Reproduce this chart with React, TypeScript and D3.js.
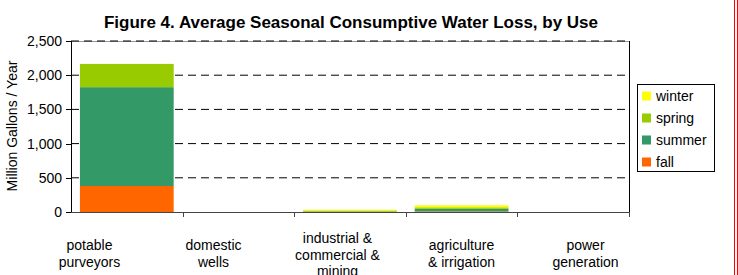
import React from 'react';
import * as d3 from 'd3';

const categories = ["potable purveyors", "domestic wells", "industrial & commercial & mining", "agriculture & irrigation", "power generation"];
const categoryLines = [["potable", "purveyors"], ["domestic", "wells"], ["industrial &", "commercial &", "mining"], ["agriculture", "& irrigation"], ["power", "generation"]];
const seasons = ["fall", "summer", "spring", "winter"];
const fall = [380, 0, 2, 8, 0];
const summer = [1445, 0, 5, 38, 0];
const spring = [340, 0, 15, 22, 0];
const winter = [0, 0, 12, 30, 0];
const yTicks = [0, 500, 1000, 1500, 2000, 2500];
const colors: Record<string, string> = { fall: "#FF6600", summer: "#339966", spring: "#99CC00", winter: "#FFFF00" };

const W = 738, H = 275;
const left = 71, right = 629, top = 41, bottom = 212;
const font = "'Liberation Sans', Arial, sans-serif";

export default function App() {
    const rows = categories.map((c, i) => ({ cat: c, fall: fall[i], summer: summer[i], spring: spring[i], winter: winter[i] }));
    const stack = d3.stack<any>().keys(seasons)(rows);

    const x = d3.scaleBand().domain(categories).range([left, right]).paddingInner(0.16).paddingOuter(0.08);
    // labels sit on a slightly wider spacing than the bars
    const xLabel = d3.scaleBand().domain(categories).range([27.5, 647.5]);
    const y = d3.scaleLinear().domain([0, 2500]).range([bottom, top]);
    const boundaries = d3.range(categories.length + 1).map(i => left + i * x.step());
    const fmt = d3.format(",");

    return (
        <svg width={W} height={H} style={{ position: 'absolute', left: 0, top: 0 }} fontFamily={font}>
            <rect x={0} y={0} width={W} height={H} fill="#fff" />
            <text x={351} y={28} textAnchor="middle" fontWeight="bold" fontSize={17}>
                Figure 4. Average Seasonal Consumptive Water Loss, by Use
            </text>

            {/* grid */}
            <line x1={left} x2={right} y1={top + 0.5} y2={top + 0.5} stroke="#999" />
            {yTicks.filter(t => t > 0).map(t => (
                <line key={t} x1={left} x2={right} y1={y(t)} y2={y(t)} stroke="#000" strokeDasharray="8,5" />
            ))}
            <line x1={right + 0.5} x2={right + 0.5} y1={top} y2={bottom} stroke="#000" />

            {/* bars */}
            {stack.map(layer => (
                <g key={layer.key} fill={colors[layer.key]}>
                    {layer.map((d, i) => (
                        <rect key={i} x={x(categories[i])} width={x.bandwidth()}
                            y={y(d[1])} height={Math.max(0, y(d[0]) - y(d[1]))} />
                    ))}
                </g>
            ))}

            {/* y axis */}
            <line x1={left + 0.5} x2={left + 0.5} y1={top} y2={bottom + 0.5} stroke="#000" />
            {yTicks.map(t => (
                <g key={t}>
                    <line x1={left - 5} x2={left} y1={Math.round(y(t)) + 0.5} y2={Math.round(y(t)) + 0.5} stroke="#000" />
                    <text x={62} y={y(t)} dy="0.35em" textAnchor="end" fontSize={14}>{fmt(t)}</text>
                </g>
            ))}
            <text transform="translate(17,126) rotate(-90)" textAnchor="middle" fontSize={14}>Million Gallons / Year</text>

            {/* x axis */}
            <line x1={left} x2={right + 1} y1={bottom + 0.5} y2={bottom + 0.5} stroke="#444" />
            {boundaries.slice(1).map((b, i) => (
                <line key={i} x1={Math.round(b) + 0.5} x2={Math.round(b) + 0.5} y1={bottom} y2={bottom + 5} stroke="#444" />
            ))}
            {categories.map((c, i) => {
                const lines = categoryLines[i];
                const y0 = lines.length === 3 ? 243 : 250;
                return (
                    <text key={c} x={(xLabel(c) as number) + xLabel.bandwidth() / 2} textAnchor="middle" fontSize={14}>
                        {lines.map((l, j) => (
                            <tspan key={j} x={(xLabel(c) as number) + xLabel.bandwidth() / 2} y={y0 + j * 16.5}>{l}</tspan>
                        ))}
                    </text>
                );
            })}

            {/* legend */}
            <rect x={637.5} y={84.5} width={77} height={87} fill="#fff" stroke="#000" />
            {seasons.slice().reverse().map((s, i) => (
                <g key={s} transform={`translate(642,${96 + i * 22})`}>
                    <rect x={0} y={-4.5} width={9} height={9} fill={colors[s]} />
                    <text x={14} y={0} dy="0.35em" fontSize={14}>{s}</text>
                </g>
            ))}

            {/* page edge */}
            <line x1={734.5} x2={734.5} y1={0} y2={H} stroke="#FF0000" />
            <line x1={737.5} x2={737.5} y1={0} y2={H} stroke="#FF0000" />
        </svg>
    );
}
